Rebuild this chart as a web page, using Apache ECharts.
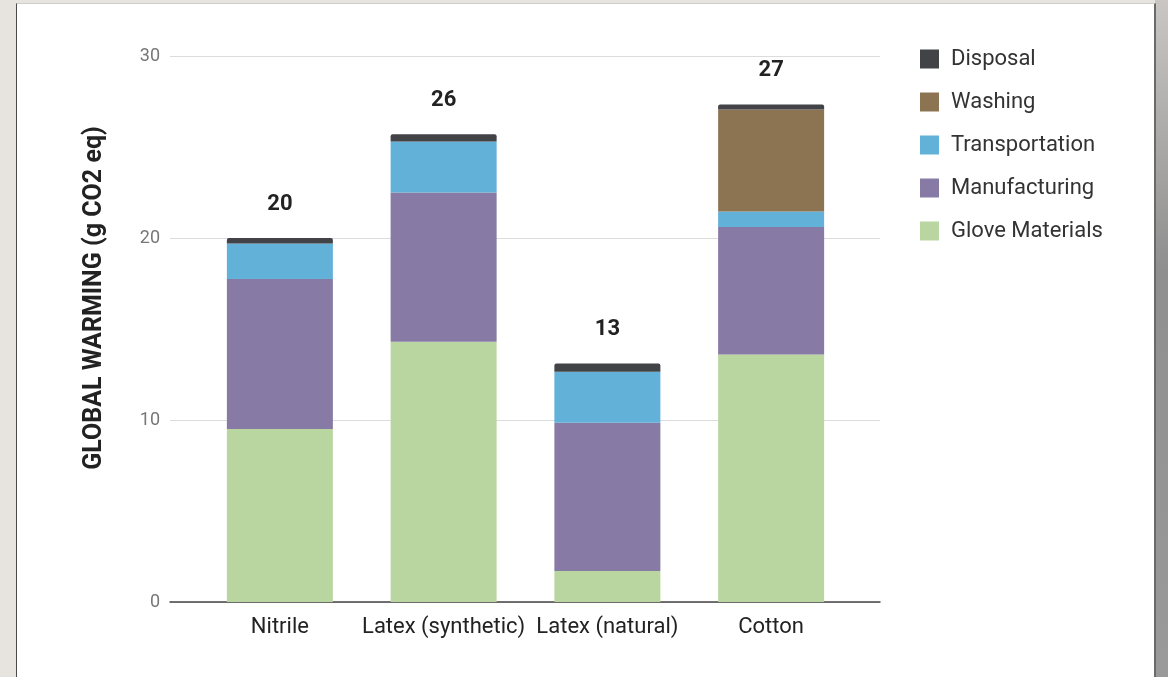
<!DOCTYPE html>
<html>
<head>
<meta charset="utf-8">
<script src="https://cdn.jsdelivr.net/npm/echarts@6/dist/echarts.min.js"></script>
<style>
    html, body { margin: 0; padding: 0; }
    body { width: 1168px; height: 677px; background: #e7e3df; position: relative; overflow: hidden; }
    #edge { position: absolute; left: 1155px; top: 0; width: 13px; height: 677px;
            background: linear-gradient(#c9c6c3, #8f8f8f 40%, #9a9a9a); }
    #card { position: absolute; left: 16px; top: 3px; width: 1137px; height: 680px; background: #fff;
            border-left: 1px solid #4a4a4a; border-right: 2px solid #6a6a6a; border-top: 1px solid #cfcfcf; }
    #main { position: absolute; left: 0; top: 0; width: 1168px; height: 677px; }
</style>
</head>
<body>
<div id="edge"></div>
<div id="card"></div>
<div id="main"></div>
<script>
    // categories & values
    let categories = ['Nitrile', 'Latex (synthetic)', 'Latex (natural)', 'Cotton'];
    let gloveMaterials = [9.5, 14.3, 1.7, 13.6];
    let manufacturing = [8.25, 8.2, 8.15, 7.0];
    let transportation = [1.95, 2.8, 2.8, 0.86];
    let washing = [0, 0, 0, 5.6];
    let disposal = [0.3, 0.4, 0.46, 0.28];
    let totals = ['20', '26', '13', '27'];
    let yTicks = [0, 10, 20, 30];

    let colors = {
        glove: '#bad6a0',
        manuf: '#877aa4',
        transport: '#62b1d9',
        washing: '#8c7452',
        disposal: '#414347'
    };

    let myChart = echarts.init(document.getElementById('main'));

    function stackSeries(name, data, color, extra) {
        let s = {
            name: name,
            type: 'bar',
            stack: 'total',
            xAxisIndex: 1,
            yAxisIndex: 1,
            barWidth: 106,
            data: data,
            itemStyle: {color: color},
            emphasis: {disabled: true}
        };
        return Object.assign(s, extra || {});
    }

    let option = {
        backgroundColor: 'transparent',
        animation: false,
        textStyle: {fontFamily: 'Roboto'},
        // y axis title sits a bit above the plot centre, like the original
        graphic: [{
            type: 'text',
            x: 95,
            y: 298,
            rotation: Math.PI / 2,
            style: {
                text: 'GLOBAL WARMING (g CO2 eq)',
                font: 'bold 25px Roboto',
                fill: '#222',
                align: 'center',
                verticalAlign: 'middle'
            }
        }],
        legend: {
            orient: 'vertical',
            left: 915,
            top: 43,
            itemWidth: 19,
            itemHeight: 19,
            itemGap: 21,
            icon: 'rect',
            data: ['Disposal', 'Washing', 'Transportation', 'Manufacturing', 'Glove Materials'],
            textStyle: {fontSize: 22, color: '#333', padding: [0, 0, 0, 7]}
        },
        grid: [
            {left: 170, right: 288, top: 56, bottom: 75},
            {left: 198, right: 315, top: 56, bottom: 75}
        ],
        xAxis: [
            {
                type: 'value', gridIndex: 0, min: 0, max: 1,
                axisLine: {show: true, lineStyle: {color: '#444', width: 1.5}},
                axisTick: {show: false},
                axisLabel: {show: false},
                splitLine: {show: false}
            },
            {
                type: 'category', gridIndex: 1, data: categories,
                axisLine: {show: false},
                axisTick: {show: false},
                axisLabel: {fontSize: 22, color: '#222', margin: 14, interval: 0}
            }
        ],
        yAxis: [
            {
                type: 'value', gridIndex: 0,
                min: yTicks[0], max: yTicks[yTicks.length - 1], interval: 10,
                axisLine: {show: false},
                axisTick: {show: false},
                axisLabel: {fontSize: 18, color: '#777', margin: 10},
                splitLine: {lineStyle: {color: '#dcdcdc', width: 1}}
            },
            {
                type: 'value', gridIndex: 1, min: 0, max: 30, interval: 10,
                show: false
            }
        ],
        series: [
            stackSeries('Glove Materials', gloveMaterials, colors.glove),
            stackSeries('Manufacturing', manufacturing, colors.manuf),
            stackSeries('Transportation', transportation, colors.transport),
            stackSeries('Washing', washing, colors.washing),
            stackSeries('Disposal', disposal, colors.disposal, {
                itemStyle: {color: colors.disposal, borderRadius: [2, 2, 0, 0]},
                label: {
                    show: true,
                    position: 'top',
                    distance: 23,
                    fontSize: 22,
                    fontWeight: 'bold',
                    color: '#222',
                    formatter: function (p) {
                        return totals[p.dataIndex];
                    }
                }
            })
        ]
    };

    myChart.setOption(option);
</script>
</body>
</html>
